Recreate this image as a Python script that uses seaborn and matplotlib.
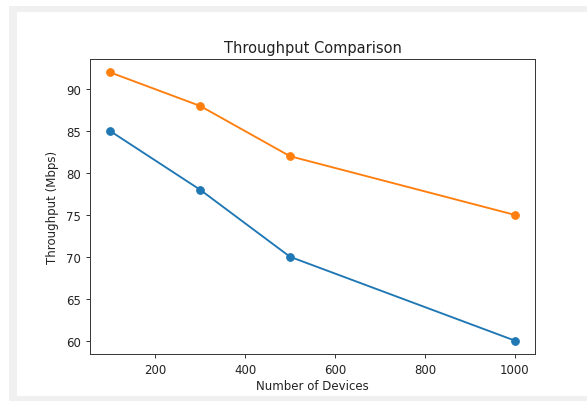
import numpy as np
import pandas as pd
import seaborn as sns
import matplotlib
matplotlib.use("Agg")
import matplotlib.pyplot as plt
from matplotlib.patches import Rectangle

devices = [100, 300, 500, 1000]
throughput_a = [85, 78, 70, 60]
throughput_b = [92, 88, 82, 75]
series_names = ["A", "B"]
series_colors = ["#1f77b4", "#ff7f0e"]

df = pd.DataFrame({
    "devices": devices * 2,
    "throughput": throughput_a + throughput_b,
    "series": [series_names[0]] * len(devices) + [series_names[1]] * len(devices),
})

fig = plt.figure(figsize=(5.87, 4.02), dpi=100)
fig.patch.set_facecolor("white")

# screenshot card with a light shadow around it
fig.patches.append(Rectangle((9 / 587, 0), 1, 395 / 402, transform=fig.transFigure,
                             facecolor="#f0f0f0", edgecolor="none", zorder=-10))
fig.patches.append(Rectangle((17 / 587, 5 / 402), 1, 384 / 402, transform=fig.transFigure,
                             facecolor="white", edgecolor="none", zorder=-9))

ax = fig.add_axes([90 / 587, 47 / 402, 445 / 587, 295 / 402])
ax.set_zorder(5)

for name, color in zip(series_names, series_colors):
    sub = df[df["series"] == name]
    sns.lineplot(data=sub, x="devices", y="throughput", ax=ax, color=color,
                 marker="o", markersize=5.5, markeredgecolor=color,
                 linewidth=1.35, legend=False)

ax.set_title("Throughput Comparison", fontsize=10.5, pad=5, color="#222222")
ax.set_xlabel("Number of Devices", fontsize=8.5, labelpad=2, color="#222222")
ax.set_ylabel("Throughput (Mbps)", fontsize=8.5, labelpad=5, color="#222222")
ax.tick_params(labelsize=8.5, length=3.2, width=0.7, labelcolor="#222222", color="#333333")
for s in ax.spines.values():
    s.set_linewidth(0.7)
    s.set_color("#333333")
ax.set_xticks([200, 400, 600, 800, 1000])
ax.set_yticks([60, 65, 70, 75, 80, 85, 90])
ax.set_xlim(55, 1045)
ax.set_ylim(58.4, 93.6)

plt.savefig("out.png", dpi=100)
plt.close()
